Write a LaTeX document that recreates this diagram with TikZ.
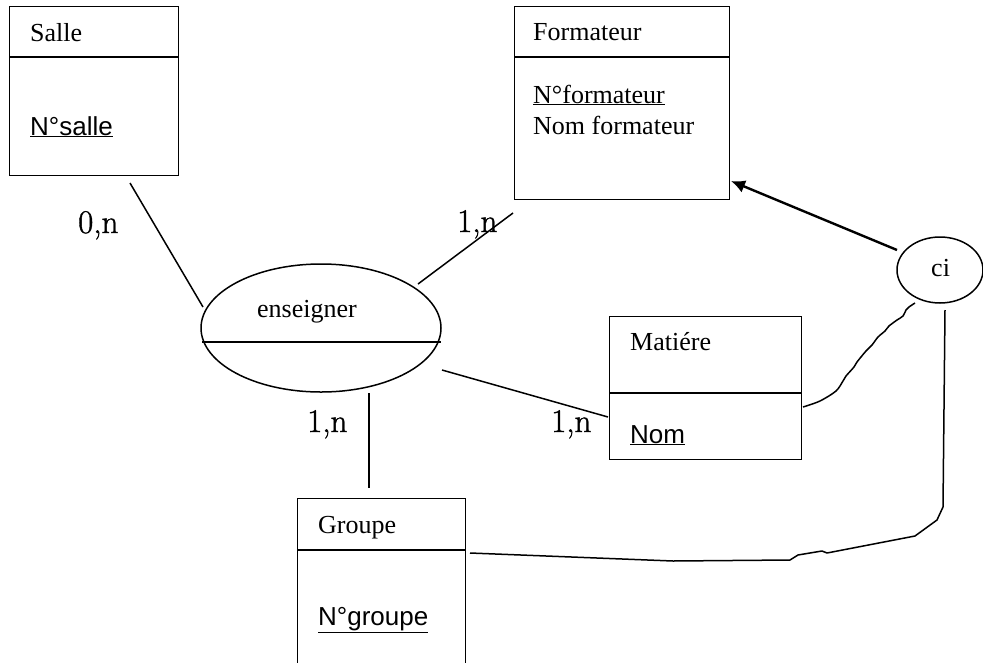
\documentclass[tikz,border=0pt]{standalone}
\usepackage{fontspec}
\newfontfamily\tnr{Liberation Serif}
\newfontfamily\ars{Liberation Sans}
\newfontfamily\cardf[FakeBold=1.2]{Latin Modern Roman}
\usetikzlibrary{arrows.meta,shapes.geometric}
\tikzset{
  ebox/.style={draw, line width=1.4pt, rectangle, inner sep=0pt, anchor=north west},
  lbl/.style={anchor=base west, inner sep=0pt, font=\tnr\fontsize{26}{30}\selectfont},
  att/.style={anchor=base west, inner sep=0pt, font=\ars\fontsize{26}{30}\selectfont},
  card/.style={anchor=base west, inner sep=0pt, font=\cardf\fontsize{33}{38}\selectfont},
  link/.style={line width=1.5pt},
}
\begin{document}
\begin{tikzpicture}[x=1pt,y=-1pt]
\useasboundingbox (0,0) rectangle (983,662);
\clip (0,0) rectangle (983,662);
% Salle
\node[ebox, minimum width=169pt, minimum height=169pt] (salle) at (9,6) {};
\draw[link] (9,57) -- (178,57);
\node[lbl] (salleT) at (30,41) {Salle};
\node[att] (salleA) at (30,135) {\underline{N°salle}};
% Formateur
\node[ebox, minimum width=215pt, minimum height=193pt] (form) at (514,6) {};
\draw[link] (514,57) -- (729,57);
\node[lbl] (formT) at (533,40) {Formateur};
\node[lbl] (formA) at (533,103) {\underline{N°formateur}};
\node[lbl] (formB) at (533,134) {Nom formateur};
% Matiere
\node[ebox, minimum width=192pt, minimum height=143pt] (mat) at (609,316) {};
\draw[link] (609,393) -- (801,393);
\node[lbl] (matT) at (630,350) {Matiére};
\node[att] (matA) at (630,443) {\underline{Nom}};
% Groupe
\node[ebox, minimum width=168pt, minimum height=190pt] (grp) at (297,498) {};
\draw[link] (297,550) -- (465,550);
\node[lbl] (grpT) at (318,533) {Groupe};
\node[att] (grpA) at (318,625) {\underline{N°groupe}};
% enseigner
\node[draw, ellipse, line width=1.5pt, minimum width=240pt, minimum height=128pt, inner sep=0pt] (ens) at (321,328) {};
\draw[link] (202,342) -- (441,342);
\node[lbl] (ensT) at (257,317) {enseigner};
% ci
\node[draw, ellipse, line width=1.5pt, minimum width=86pt, minimum height=66pt, inner sep=0pt] (ci) at (940,270) {};
\node[lbl] (ciT) at (931,276) {ci};
% connector end points
\coordinate (s1) at (130,183); \coordinate (s2) at (203,307);
\coordinate (f1) at (513,213); \coordinate (f2) at (418,284);
\coordinate (m1) at (442,370); \coordinate (m2) at (608,417);
\coordinate (g1) at (369,393); \coordinate (g2) at (369,488);
\draw[link] (s1) -- (s2);
\draw[link] (f1) -- (f2);
\draw[link] (m1) -- (m2);
\draw[link] (g1) -- (g2);
\node[card] (c1) at (78,233) {0,n};
\node[card] (c2) at (457,232) {1,n};
\node[card] (c3) at (307,432) {1,n};
\node[card] (c4) at (551,432) {1,n};
% arrow ci -> Formateur
\coordinate (a1) at (897,250); \coordinate (a2) at (731,181);
\draw[line width=2.4pt, -{Latex[length=14pt,width=13pt]}] (a1) -- (a2);
% wiggly Matiere -> ci
\coordinate (w1) at (803,407); \coordinate (w2) at (915,303);
\draw[link] plot[smooth, tension=0.5] coordinates {(w1) (820,401) (836,391) (843,381) (846,376) (854,367) (857,362) (866,351) (872,345) (878,337) (885,331) (889,326) (897,320) (903,316) (906,310) (909,307) (w2)};
% Groupe -> ci
\coordinate (r1) at (470,553); \coordinate (r2) at (945,310);
\draw[link, line join=round] (r1) -- (673,561) -- (790,560) -- (798,555) -- (822,551) -- (827,553) -- (915,536) -- (937,520) -- (943,507) -- (r2);
\end{tikzpicture}
\end{document}
